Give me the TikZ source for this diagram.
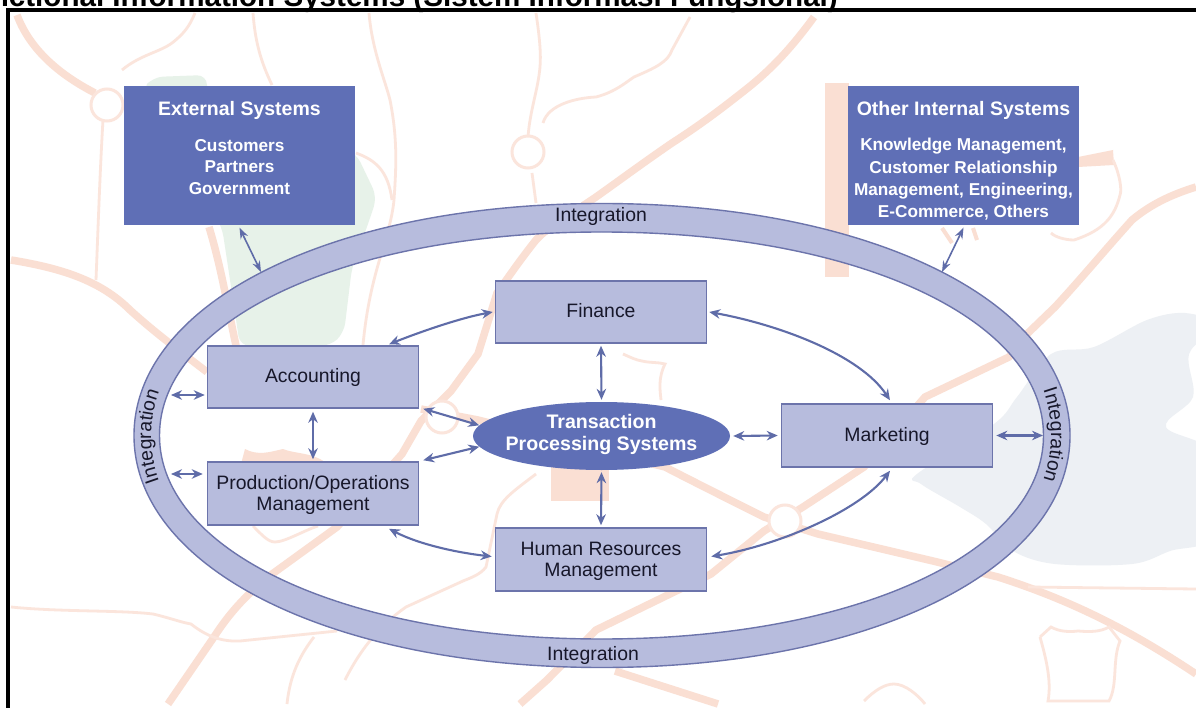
\documentclass[tikz,border=0pt]{standalone}
\usepackage{fontspec}
\setmainfont{Liberation Sans}
\usetikzlibrary{arrows.meta,shapes.geometric,decorations.text}
\definecolor{road}{HTML}{FADFD3}
\definecolor{thinroad}{HTML}{FBE5DC}
\definecolor{green}{HTML}{E7F2E9}
\definecolor{lake}{HTML}{EDF0F4}
\definecolor{dark}{HTML}{5F6FB6}
\definecolor{light}{HTML}{B7BCDD}
\definecolor{edgeblue}{HTML}{6C74AB}
\definecolor{ink}{HTML}{17172A}
\definecolor{arrowblue}{HTML}{5F6CA8}
\tikzset{
  thick road/.style={draw=road,line width=7.5pt,line cap=butt},
  thin road/.style={draw=thinroad,line width=2.8pt},
  rbt/.style={draw=thinroad,line width=3pt,fill=white},
  fun/.style={draw=edgeblue,line width=1.5pt,fill=light,minimum width=211pt,align=center,
     font=\fontsize{19.4}{21}\selectfont,text=ink,inner sep=0pt},
  sys/.style={fill=dark,minimum width=231pt,minimum height=139pt,inner sep=0pt},
  systitle/.style={text=white,font=\bfseries\fontsize{19.5}{21}\selectfont,inner sep=0pt},
  syslist/.style={text=white,font=\bfseries\fontsize{17.2}{21.5}\selectfont,align=center,inner sep=0pt},
  arr/.style={draw=arrowblue,line width=2.1pt,{Stealth[length=11pt,width=9.5pt]}-{Stealth[length=11pt,width=9.5pt]}},
  arrthin/.style={draw=arrowblue,line width=1.6pt,{Stealth[length=11pt,width=8pt]}-{Stealth[length=11pt,width=8pt]}},
  ringlabel/.style={text=ink,font=\fontsize{19.4}{21}\selectfont,inner sep=0pt},
}
\begin{document}
\begin{tikzpicture}[x=1pt,y=-1pt]
\useasboundingbox (0,0) rectangle (1196,708);
\clip (0,0) rectangle (1196,708);
\fill[white] (0,0) rectangle (1196,708);
% ---- map background
\fill[green,rounded corners=10pt] (142,90) -- (153,77) -- (207,75) -- (207,100) -- (356,153) -- (377,197) -- (367,227) -- (352,267) -- (344,333) -- (330,346) -- (240,346) -- (222,227) -- cycle;
\fill[lake] plot[smooth cycle,tension=.55] coordinates {(1215,325) (1185,313) (1147,320) (1094,347) (1051,354) (1017,397) (994,424) (917,474) (921,484) (960,507) (986,524) (1013,551) (1055,564) (1132,564) (1170,551) (1215,535) (1215,455) (1166,427) (1193,397) (1189,354)};
\fill[road] (825,83) rectangle (849,277);
\fill[road] (551,467) rectangle (609,501);
\fill[road] (241,464) -- (245,449) .. controls (258,456) and (270,452) .. (283,449) .. controls (295,454) and (310,452) .. (325,462) -- cycle;
\fill[road] (1078,167) -- (1078,157) -- (1113,150) -- (1114,165) -- cycle;
% thick roads
\path[thick road] (17,15) .. controls (30,50) and (60,75) .. (95,93);
\path[thick road] (11,260) .. controls (60,268) and (100,280) .. (130,310) .. controls (150,328) and (165,340) .. (207,372);
\path[thick road] (421,409) -- (478,420) -- (665,467) .. controls (700,485) and (740,505) .. (764,517) -- (818,534) -- (933,561) -- (998,577) .. controls (1070,600) and (1130,630) .. (1196,674);
\path[thick road] (209,227) .. controls (222,270) and (228,310) .. (237,350);
\path[thick road] (814,17) .. controls (790,50) and (770,70) .. (749,87) .. controls (720,110) and (700,125) .. (672,143) .. controls (640,165) and (620,180) .. (596,197) .. controls (570,215) and (550,225) .. (536,240) .. controls (520,260) and (510,275) .. (497,293) -- (478,354) -- (451,391) -- (421,421) -- (402,454) -- (337,527) -- (268,577) .. controls (240,600) and (225,620) .. (214,637) -- (168,704);
\path[thick road] (1196,187) .. controls (1170,195) and (1150,205) .. (1132,220) .. controls (1105,250) and (1080,280) .. (1055,307) -- (1028,333) -- (1009,357) -- (925,397) -- (864,467) -- (803,507) -- (764,531) -- (711,574) -- (596,630) -- (547,680) -- (520,704);
\path[thick road] (615,671) -- (718,704);
% thin roads
\path[thin road] (122,70) .. controls (140,55) and (160,52) .. (172,43) .. controls (185,33) and (190,25) .. (195,13);
\path[thin road] (103,120) .. controls (100,170) and (98,230) .. (96,280);
\path[thin road] (253,13) .. controls (255,40) and (260,60) .. (272,85);
\path[thin road] (369,13) .. controls (372,50) and (385,80) .. (390,100) .. controls (398,140) and (396,170) .. (394,200) .. controls (390,240) and (370,270) .. (363,345);
\path[thin road] (356,153) .. controls (375,160) and (388,170) .. (392,200);
\path[thin road] (536,13) .. controls (540,40) and (541,55) .. (540,67) .. controls (538,90) and (530,110) .. (528,137);
\path[thin road] (532,173) -- (536,203);
\path[thin road] (543,123) .. controls (548,105) and (575,98) .. (596,97) .. controls (615,92) and (625,83) .. (634,77) .. controls (655,68) and (668,62) .. (672,50) -- (690,17);
\path[thin road] (536,474) .. controls (515,490) and (500,500) .. (497,514) -- (486,567) .. controls (480,575) and (470,578) .. (463,581) -- (406,607) .. controls (380,625) and (360,650) .. (345,680);
\path[thin road] (11,607) .. controls (60,612) and (120,610) .. (153,614) .. controls (170,618) and (180,622) .. (191,624) .. controls (205,635) and (220,642) .. (240,641) -- (337,631);
\path[thin road] (314,637) .. controls (300,655) and (290,675) .. (287,704);
\path[thin road] (1028,587) -- (1196,589);
\path[thin road] (1040,637) -- (1051,627) .. controls (1060,632) and (1070,632) .. (1078,631) .. controls (1090,632) and (1100,632) .. (1109,627) -- (1120,641) .. controls (1112,660) and (1118,685) .. (1109,701) -- (1048,701) .. controls (1052,680) and (1045,655) .. (1040,637);
\path[thin road] (864,701) .. controls (875,690) and (885,684) .. (894,684) .. controls (905,684) and (918,695) .. (925,704);
\path[thin road] (1113,160) .. controls (1120,175) and (1122,190) .. (1120,195) .. controls (1115,215) and (1105,230) .. (1074,240) .. controls (1065,240) and (1055,237) .. (1051,233);
\path[thin road] (623,354) .. controls (632,358) and (636,360) .. (642,361) .. controls (650,363) and (658,362) .. (665,364) .. controls (658,378) and (660,390) .. (661,400);
\path[thin road] (253,526) .. controls (262,535) and (268,542) .. (275,542) .. controls (285,542) and (305,530) .. (318,526);
\draw[road,line width=4pt] (942,228) -- (952,243) (973,228) -- (977,240);
\path[rbt] (107,105) circle[radius=16];
\path[rbt] (528,152) circle[radius=16];
\path[rbt] (442,417) circle[radius=16];
\path[rbt] (785,521) circle[radius=16];
% ---- integration ring (slightly fuller than a true ellipse)
\path[fill=light,draw=edgeblue,line width=1.4pt,even odd rule]
  (134,435.5) .. controls (134,302) and (333,203.5) .. (602,203.5)
  .. controls (871,203.5) and (1070,302) .. (1070,435.5)
  .. controls (1070,569) and (871,667.5) .. (602,667.5)
  .. controls (333,667.5) and (134,569) .. (134,435.5) -- cycle
  (159.5,435.5) .. controls (159.5,318.5) and (347,232) .. (601.5,232)
  .. controls (856,232) and (1043.5,318.5) .. (1043.5,435.5)
  .. controls (1043.5,552.5) and (856,639) .. (601.5,639)
  .. controls (347,639) and (159.5,552.5) .. (159.5,435.5) -- cycle;
% ---- frame and title
\node[anchor=base east,inner sep=0pt,font=\bfseries\fontsize{29.6}{30}\selectfont] (title) at (838,7) {Functional Information Systems (Sistem Informasi Fungsional)};
\draw[black,line width=3.6pt] (7.7,720) -- (7.7,10) -- (1210,10);
% ---- outer systems
\node[sys] (ext) at (239.5,156) {};
\node[systitle] (exttitle) at (239.5,110.5) {External Systems};
\node[syslist] (extlist) at (239.5,167) {Customers\\Partners\\Government};
\node[sys] (oth) at (963.5,156) {};
\node[systitle] (othtitle) at (963.5,110.5) {Other Internal Systems};
\node[syslist,font=\bfseries\fontsize{17.2}{22.3}\selectfont] (othlist) at (963.5,179.5) {Knowledge Management,\\Customer Relationship\\Management, Engineering,\\E-Commerce, Others};
% ---- functional systems
\node[fun,minimum height=62pt] (fin) at (601,312) {};
\node[text=ink,font=\fontsize{19.4}{21}\selectfont,inner sep=0pt] (fintext) at (601,310.5) {Finance};
\node[fun,minimum height=62pt] (acc) at (313,377) {Accounting};
\node[fun,minimum height=63pt] (prod) at (313,493.5) {};
\node[text=ink,align=center,font=\fontsize{19.4}{21}\selectfont,inner sep=0pt] (prodtext) at (313,494.5) {Production/Operations\\Management};
\node[fun,minimum height=63pt] (hr) at (601,559.5) {};
\node[text=ink,align=center,font=\fontsize{19.4}{21}\selectfont,inner sep=0pt] (hrtext) at (601,561.5) {Human Resources\\Management};
\node[fun,minimum height=63pt] (mkt) at (887,435.5) {};
\node[text=ink,font=\fontsize{19.4}{21}\selectfont,inner sep=0pt] (mkttext) at (887,436) {Marketing};
\node[ellipse,fill=dark,minimum width=257pt,minimum height=68pt,inner sep=0pt] (tps) at (601.5,436) {};
\node[align=center,text=white,inner sep=0pt,font=\bfseries\fontsize{19.6}{22}\selectfont] (tpstext) at (601.5,434.5) {Transaction\\Processing Systems};
% ---- ring labels
\node[ringlabel] (ringtop) at (601,216) {Integration};
\node[ringlabel] (ringbot) at (593,655) {Integration};
\path[decorate,decoration={text along path,text align=center,text={|\fontsize{19.4}{21}\selectfont\color{ink}|Integration}}]
  (161,486) .. controls (148,455) and (148,418) .. (161,387);
\path[decorate,decoration={text along path,text align=center,text={|\fontsize{19.4}{21}\selectfont\color{ink}|Integration}}]
  (1042,386) .. controls (1054,418) and (1054,452) .. (1042,484);
% ---- free ends on the ring
\coordinate (rExt) at (261,272);
\coordinate (rOth) at (942,272);
\coordinate (rAcc) at (171,395);
\coordinate (rProd) at (171,474);
\coordinate (rMkt) at (1043,435.5);
% ---- connectors
\draw[arrthin] ([yshift=-2pt]ext.south) -- (rExt);
\draw[arrthin] ([yshift=-2pt]oth.south) -- (rOth);
\draw[arr] (rAcc) -- ([yshift=-18pt,xshift=-2pt]acc.west);
\draw[arr] (rProd) -- ([yshift=19.5pt,xshift=-4pt]prod.west);
\draw[arr] ([xshift=3pt]mkt.east) -- (rMkt);
\draw[arr] ([xshift=76pt,yshift=1pt]acc.north) .. controls (420,332) and (460,318) .. ([xshift=-2pt]fin.west);
\draw[arr] ([xshift=2pt]fin.east) .. controls (780,325) and (860,355) .. ([xshift=3pt,yshift=3pt]mkt.north);
\draw[arr] ([xshift=3pt,yshift=-3pt]mkt.south) .. controls (860,510) and (780,545) .. ([xshift=4pt,yshift=3pt]hr.east);
\draw[arr] ([xshift=76pt,yshift=-3pt]prod.south) .. controls (420,545) and (460,553) .. ([xshift=-3pt,yshift=3pt]hr.west);
\draw[arr] ([yshift=-2pt]fin.south) -- ([yshift=2pt]tps.north);
\draw[arr] ([yshift=-2pt]tps.south) -- ([yshift=2pt]hr.north);
\draw[arr] ([xshift=3pt]tps.east) -- ([xshift=-3pt]mkt.west);
\draw[arr] ([xshift=4pt]acc.south east) -- (tps.175);
\draw[arr] ([xshift=4pt,yshift=1pt]prod.north east) -- (tps.185);
\draw[arr] ([yshift=-3pt]acc.south) -- ([yshift=2pt]prod.north);
\end{tikzpicture}
\end{document}
